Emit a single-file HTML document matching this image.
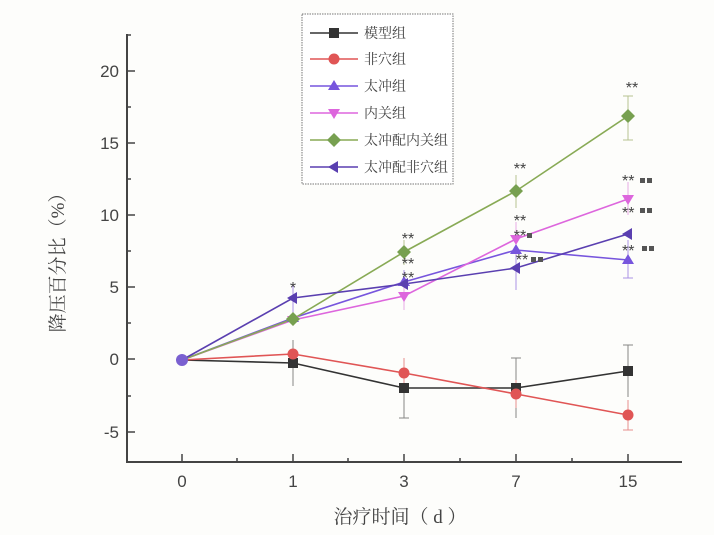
<!DOCTYPE html>
<html><head><meta charset="utf-8"><style>
html,body{margin:0;padding:0;background:#fff;}
svg{display:block;}
text{font-family:"Liberation Sans",sans-serif;fill:#444;}
.cn{font-family:"Liberation Serif","Noto Serif CJK SC",serif;}
</style></head><body>
<svg width="714" height="535" viewBox="0 0 714 535" xmlns="http://www.w3.org/2000/svg">
<rect width="714" height="535" fill="#fdfdfb"/>
<g stroke="#444" stroke-width="2" fill="none">
<line x1="127" y1="34" x2="127" y2="462"/>
<line x1="126" y1="462" x2="682" y2="462"/>
</g>
<g stroke="#444" stroke-width="1.5">
<line x1="127" y1="71" x2="135" y2="71"/><line x1="127" y1="143" x2="135" y2="143"/>
<line x1="127" y1="215" x2="135" y2="215"/><line x1="127" y1="287" x2="135" y2="287"/>
<line x1="127" y1="359" x2="135" y2="359"/><line x1="127" y1="432" x2="135" y2="432"/>
<line x1="127" y1="107" x2="131" y2="107"/><line x1="127" y1="179" x2="131" y2="179"/>
<line x1="127" y1="251" x2="131" y2="251"/><line x1="127" y1="323" x2="131" y2="323"/>
<line x1="127" y1="396" x2="131" y2="396"/><line x1="127" y1="35" x2="131" y2="35"/>
<line x1="182" y1="462" x2="182" y2="454"/><line x1="293" y1="462" x2="293" y2="454"/>
<line x1="404" y1="462" x2="404" y2="454"/><line x1="516" y1="462" x2="516" y2="454"/>
<line x1="628" y1="462" x2="628" y2="454"/>
<line x1="237" y1="462" x2="237" y2="458"/><line x1="348" y1="462" x2="348" y2="458"/>
<line x1="460" y1="462" x2="460" y2="458"/><line x1="572" y1="462" x2="572" y2="458"/>
</g>
<g font-size="17" text-anchor="end">
<text x="119" y="77">20</text><text x="119" y="149">15</text><text x="119" y="221">10</text>
<text x="119" y="293">5</text><text x="119" y="365">0</text><text x="119" y="438">-5</text>
</g>
<g font-size="17" text-anchor="middle">
<text x="182" y="487">0</text><text x="293" y="487">1</text><text x="404" y="487">3</text>
<text x="516" y="487">7</text><text x="628" y="487">15</text>
</g>
<text class="cn" x="400" y="523" font-size="19" text-anchor="middle">治疗时间（ d ）</text>
<text class="cn" x="0" y="0" font-size="19" text-anchor="middle" transform="translate(64,258) rotate(-90)">降压百分比（%）</text>

<g stroke-width="1" opacity="0.7">
<g stroke="#555"><line x1="293" y1="340" x2="293" y2="386"/><line x1="404" y1="362" x2="404" y2="418"/><line x1="516" y1="358" x2="516" y2="418"/><line x1="628" y1="345" x2="628" y2="397"/>
<line x1="623" y1="345" x2="633" y2="345"/><line x1="511" y1="358" x2="521" y2="358"/><line x1="399" y1="418" x2="409" y2="418"/></g>
<g stroke="#e06060"><line x1="404" y1="358" x2="404" y2="388"/><line x1="516" y1="380" x2="516" y2="408"/><line x1="628" y1="400" x2="628" y2="430"/><line x1="623" y1="430" x2="633" y2="430"/></g>
<g stroke="#8866dd"><line x1="293" y1="285" x2="293" y2="320"/><line x1="404" y1="270" x2="404" y2="300"/><line x1="516" y1="235" x2="516" y2="290"/><line x1="628" y1="240" x2="628" y2="278"/><line x1="623" y1="278" x2="633" y2="278"/></g>
<g stroke="#dd88dd"><line x1="404" y1="280" x2="404" y2="310"/><line x1="516" y1="222" x2="516" y2="255"/><line x1="628" y1="182" x2="628" y2="215"/></g>
<g stroke="#99aa66"><line x1="404" y1="240" x2="404" y2="265"/><line x1="516" y1="175" x2="516" y2="208"/><line x1="628" y1="96" x2="628" y2="140"/><line x1="623" y1="96" x2="633" y2="96"/><line x1="623" y1="140" x2="633" y2="140"/></g>
</g>

<g fill="none" stroke-width="1.6">
<polyline stroke="#333" points="182,360 293,363 404,388 516,388 628,371"/>
<polyline stroke="#e05555" points="182,360 293,354 404,373 516,394 628,415"/>
<polyline stroke="#7755dd" points="182,360 293,318 404,282 516,250 628,260"/>
<polyline stroke="#dd66dd" points="182,360 293,320 404,296 516,239 628,199"/>
<polyline stroke="#88aa55" points="182,360 293,319 404,252 516,191 628,116"/>
<polyline stroke="#5a3fb0" points="182,360 293,298 404,284 516,268 628,234"/>
</g>
<g fill="#333"><rect x="288" y="358" width="10" height="10"/><rect x="399" y="383" width="10" height="10"/><rect x="511" y="383" width="10" height="10"/><rect x="623" y="366" width="10" height="10"/></g>
<g fill="#e05555"><circle cx="293" cy="354" r="5.5"/><circle cx="404" cy="373" r="5.5"/><circle cx="516" cy="394" r="5.5"/><circle cx="628" cy="415" r="5.5"/></g>
<g fill="#7755dd"><path d="M293,312 l6,10 h-12z M404,276 l6,10 h-12z M516,244 l6,10 h-12z M628,254 l6,10 h-12z"/></g>
<g fill="#dd66dd"><path d="M293,326 l6,-10 h-12z M404,302 l6,-10 h-12z M516,245 l6,-10 h-12z M628,205 l6,-10 h-12z"/></g>
<g fill="#77a050"><path d="M293,312 l7,7 -7,7 -7,-7z M404,245 l7,7 -7,7 -7,-7z M516,184 l7,7 -7,7 -7,-7z M628,109 l7,7 -7,7 -7,-7z"/></g>
<g fill="#5a3fb0"><path d="M287,298 l10,-6 v12z M398,284 l10,-6 v12z M510,268 l10,-6 v12z M622,234 l10,-6 v12z"/></g>
<circle cx="182" cy="360" r="6" fill="#7a60d0"/>

<g font-size="16" fill="#555" text-anchor="middle">
<text x="293" y="293">*</text>
<text x="408" y="244">**</text><text x="408" y="269">**</text><text x="408" y="283">**</text>
<text x="520" y="174">**</text><text x="520" y="226">**</text><text x="520" y="241">**</text><text x="522" y="265">**</text>
<text x="632" y="93">**</text>
</g>
<g font-size="16" fill="#555">
<text x="622" y="186">**</text><text x="622" y="218">**</text><text x="622" y="256">**</text>
</g>
<g fill="#555"><rect x="640" y="178" width="5" height="5"/><rect x="647" y="178" width="5" height="5"/>
<rect x="640" y="208" width="5" height="5"/><rect x="647" y="208" width="5" height="5"/>
<rect x="642" y="246" width="5" height="5"/><rect x="649" y="246" width="5" height="5"/>
<rect x="527" y="233" width="5" height="5"/><rect x="531" y="257" width="5" height="5"/><rect x="538" y="257" width="5" height="5"/></g>

<rect x="302" y="14" width="151" height="170" fill="#fff" stroke="#777" stroke-dasharray="1.5,1"/>
<g stroke-width="1.6">
<line x1="310" y1="33" x2="358" y2="33" stroke="#333"/>
<line x1="310" y1="59" x2="358" y2="59" stroke="#e05555"/>
<line x1="310" y1="86" x2="358" y2="86" stroke="#7755dd"/>
<line x1="310" y1="113" x2="358" y2="113" stroke="#dd66dd"/>
<line x1="310" y1="140" x2="358" y2="140" stroke="#88aa55"/>
<line x1="310" y1="167" x2="358" y2="167" stroke="#5a3fb0"/>
</g>
<rect x="329" y="28" width="10" height="10" fill="#333"/>
<circle cx="334" cy="59" r="5.5" fill="#e05555"/>
<path d="M334,80 l6,10 h-12z" fill="#7755dd"/>
<path d="M334,119 l6,-10 h-12z" fill="#dd66dd"/>
<path d="M334,133 l7,7 -7,7 -7,-7z" fill="#77a050"/>
<path d="M328,167 l10,-6 v12z" fill="#5a3fb0"/>
<g class="cn" font-size="14" fill="#555">
<text class="cn" x="364" y="38">模型组</text>
<text class="cn" x="364" y="64">非穴组</text>
<text class="cn" x="364" y="91">太冲组</text>
<text class="cn" x="364" y="118">内关组</text>
<text class="cn" x="364" y="145">太冲配内关组</text>
<text class="cn" x="364" y="172">太冲配非穴组</text>
</g>
</svg>
</body></html>
